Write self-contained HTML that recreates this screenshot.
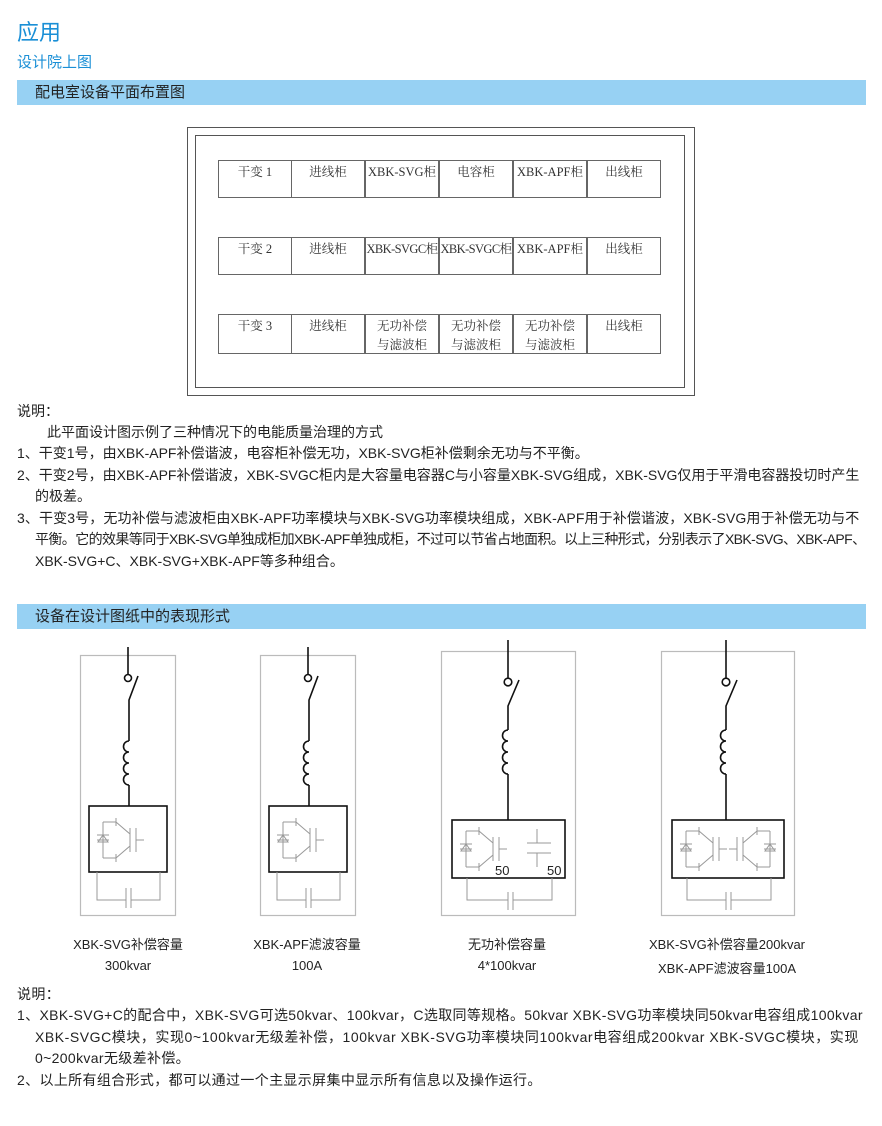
<!DOCTYPE html>
<html><head><meta charset="utf-8"><style>
body{margin:0;width:882px;height:1126px;background:#fff;position:relative;font-family:"Liberation Sans","Noto Sans CJK SC",sans-serif;overflow:hidden}
.a{position:absolute;white-space:nowrap}
.bar{position:absolute;left:17px;width:849px;height:25px;background:#97d1f3;color:#222;font-size:15px;line-height:25px;text-indent:18px}
.t{font-size:14px;color:#222;letter-spacing:0px}
.u{font-size:14px;color:#222;letter-spacing:0.35px}
.cell{position:absolute;border:1px solid #666;box-sizing:border-box;width:74px;font-family:"Liberation Serif","Noto Serif CJK SC",serif;font-size:12.5px;color:#333;text-align:center;line-height:19px;padding-top:2px}
.lab{font-size:13px;color:#222;text-align:center;width:200px}
</style></head><body>
<div class="a" style="left:17px;top:15px;font-size:22px;color:#1a8fd6">应用</div>
<div class="a" style="left:17px;top:51px;font-size:15px;color:#1a8fd6">设计院上图</div>
<div class="bar" style="top:80px">配电室设备平面布置图</div>
<div class="a" style="left:187px;top:127px;width:508px;height:269px;border:1px solid #555;box-sizing:border-box"></div>
<div class="a" style="left:195px;top:135px;width:490px;height:253px;border:1px solid #555;box-sizing:border-box"></div>

<div class="cell" style="left:218px;top:160px;height:38px">干变 1</div>
<div class="cell" style="left:291px;top:160px;height:38px">进线柜</div>
<div class="cell" style="left:365px;top:160px;height:38px">XBK-SVG柜</div>
<div class="cell" style="left:439px;top:160px;height:38px">电容柜</div>
<div class="cell" style="left:513px;top:160px;height:38px">XBK-APF柜</div>
<div class="cell" style="left:587px;top:160px;height:38px">出线柜</div>

<div class="cell" style="left:218px;top:237px;height:38px">干变 2</div>
<div class="cell" style="left:291px;top:237px;height:38px">进线柜</div>
<div class="cell" style="left:365px;top:237px;height:38px;letter-spacing:-0.6px">XBK-SVGC柜</div>
<div class="cell" style="left:439px;top:237px;height:38px;letter-spacing:-0.6px">XBK-SVGC柜</div>
<div class="cell" style="left:513px;top:237px;height:38px">XBK-APF柜</div>
<div class="cell" style="left:587px;top:237px;height:38px">出线柜</div>

<div class="cell" style="left:218px;top:314px;height:40px">干变 3</div>
<div class="cell" style="left:291px;top:314px;height:40px">进线柜</div>
<div class="cell" style="left:365px;top:314px;height:40px">无功补偿<br>与滤波柜</div>
<div class="cell" style="left:439px;top:314px;height:40px">无功补偿<br>与滤波柜</div>
<div class="cell" style="left:513px;top:314px;height:40px">无功补偿<br>与滤波柜</div>
<div class="cell" style="left:587px;top:314px;height:40px">出线柜</div>

<div class="a t" style="left:17px;top:401px">说明：</div>
<div class="a t" style="left:47px;top:422px">此平面设计图示例了三种情况下的电能质量治理的方式</div>
<div class="a t" style="left:17px;top:443px">1、干变1号，由XBK-APF补偿谐波，电容柜补偿无功，XBK-SVG柜补偿剩余无功与不平衡。</div>
<div class="a t" style="left:17px;top:465px">2、干变2号，由XBK-APF补偿谐波，XBK-SVGC柜内是大容量电容器C与小容量XBK-SVG组成，XBK-SVG仅用于平滑电容器投切时产生</div>
<div class="a t" style="left:35px;top:486px">的极差。</div>
<div class="a t" style="left:17px;top:508px;letter-spacing:0.12px">3、干变3号，无功补偿与滤波柜由XBK-APF功率模块与XBK-SVG功率模块组成，XBK-APF用于补偿谐波，XBK-SVG用于补偿无功与不</div>
<div class="a t" style="left:35px;top:529px;letter-spacing:-0.6px">平衡。它的效果等同于XBK-SVG单独成柜加XBK-APF单独成柜，不过可以节省占地面积。以上三种形式，分别表示了XBK-SVG、XBK-APF、</div>
<div class="a t" style="left:35px;top:551px">XBK-SVG+C、XBK-SVG+XBK-APF等多种组合。</div>

<div class="bar" style="top:604px">设备在设计图纸中的表现形式</div>

<svg class="a" style="left:0;top:0" width="882" height="1126">
<defs>
<g id="coil" fill="none" stroke="#111" stroke-width="1.6"><path d="M0,0 a5.5,5.5 0 1 0 0,11 a5.5,5.5 0 1 0 0,11 a5.5,5.5 0 1 0 0,11 a5.5,5.5 0 1 0 0,11"/></g>
<g id="igbt" fill="none" stroke="#999" stroke-width="1"><path d="M-18,-18 h13 M-5,-22 v8 M-5,-18 l14,12 M9,-12 v24 M-5,18 l14,-12 M-5,14 v8 M-18,18 h13 M-18,-18 v36 M-24,0 h12 M-24,-5 h12 M-18,-5 l-5,7 h10 z M15,-12 v24 M15,0 h8"/></g>
<g id="igbtR" fill="none" stroke="#999" stroke-width="1" transform="scale(-1,1)"><path d="M-18,-18 h13 M-5,-22 v8 M-5,-18 l14,12 M9,-12 v24 M-5,18 l14,-12 M-5,14 v8 M-18,18 h13 M-18,-18 v36 M-24,0 h12 M-24,-5 h12 M-18,-5 l-5,7 h10 z M15,-12 v24 M15,0 h8"/></g>
</defs>
<g fill="none" stroke="#bbb" stroke-width="1.2">
<rect x="80.5" y="655.5" width="95" height="260"/>
<rect x="260.5" y="655.5" width="95" height="260"/>
<rect x="441.5" y="651.5" width="134" height="264"/>
<rect x="661.5" y="651.5" width="133" height="264"/>
</g>
<g fill="none" stroke="#111" stroke-width="1.6">
<path d="M128,647 v27"/><circle cx="128" cy="678" r="3.5"/><path d="M138,676 L129,700 V741"/><path d="M129,785 V806"/>
<rect x="89" y="806" width="78" height="66"/>
<path d="M308,647 v27"/><circle cx="308" cy="678" r="3.5"/><path d="M318,676 L309,700 V741"/><path d="M309,785 V806"/>
<rect x="269" y="806" width="78" height="66"/>
<path d="M508,640 v39"/><circle cx="508" cy="682" r="3.8"/><path d="M519,680 L508,706 V730"/><path d="M508,774 V820"/>
<rect x="452" y="820" width="113" height="58"/>
<path d="M726,640 v39"/><circle cx="726" cy="682" r="3.8"/><path d="M737,680 L726,706 V730"/><path d="M726,774 V820"/>
<rect x="672" y="820" width="112" height="58"/>
</g>
<use href="#coil" x="129" y="741"/>
<use href="#coil" x="309" y="741"/>
<use href="#coil" x="508" y="730"/>
<use href="#coil" x="726" y="730"/>
<use href="#igbt" x="121" y="840"/>
<use href="#igbt" x="301" y="840"/>
<use href="#igbt" x="484" y="849"/>
<use href="#igbt" x="704" y="849"/>
<use href="#igbtR" x="752" y="849"/>
<g fill="none" stroke="#999" stroke-width="1">
<path d="M537,829 v14 M527,843 h24 M527,853 h24 M537,853 v14"/>
<path d="M97,872 V900 H126 M126,888 V908 M131,888 V908 M131,900 H160 V872"/>
<path d="M277,872 V900 H306 M306,888 V908 M311,888 V908 M311,900 H340 V872"/>
<path d="M467,878 V900 H508 M508,892 V910 M513,892 V910 M513,900 H552 V878"/>
<path d="M687,878 V900 H726 M726,892 V910 M731,892 V910 M731,900 H771 V878"/>
</g>
<text x="495" y="875" font-size="13" fill="#222" font-family="Liberation Sans">50</text>
<text x="547" y="875" font-size="13" fill="#222" font-family="Liberation Sans">50</text>
</svg>

<div class="a lab" style="left:28px;top:934px">XBK-SVG补偿容量</div>
<div class="a lab" style="left:28px;top:958px">300kvar</div>
<div class="a lab" style="left:207px;top:934px">XBK-APF滤波容量</div>
<div class="a lab" style="left:207px;top:958px">100A</div>
<div class="a lab" style="left:407px;top:934px">无功补偿容量</div>
<div class="a lab" style="left:407px;top:958px">4*100kvar</div>
<div class="a lab" style="left:627px;top:934px">XBK-SVG补偿容量200kvar</div>
<div class="a lab" style="left:627px;top:958px">XBK-APF滤波容量100A</div>

<div class="a u" style="left:17px;top:984px">说明：</div>
<div class="a u" style="left:17px;top:1005px">1、XBK-SVG+C的配合中，XBK-SVG可选50kvar、100kvar，C选取同等规格。50kvar XBK-SVG功率模块同50kvar电容组成100kvar</div>
<div class="a u" style="left:35px;top:1027px;letter-spacing:0.55px">XBK-SVGC模块，实现0~100kvar无级差补偿，100kvar XBK-SVG功率模块同100kvar电容组成200kvar XBK-SVGC模块，实现</div>
<div class="a u" style="left:35px;top:1048px">0~200kvar无级差补偿。</div>
<div class="a u" style="left:17px;top:1070px">2、以上所有组合形式，都可以通过一个主显示屏集中显示所有信息以及操作运行。</div>
</body></html>
